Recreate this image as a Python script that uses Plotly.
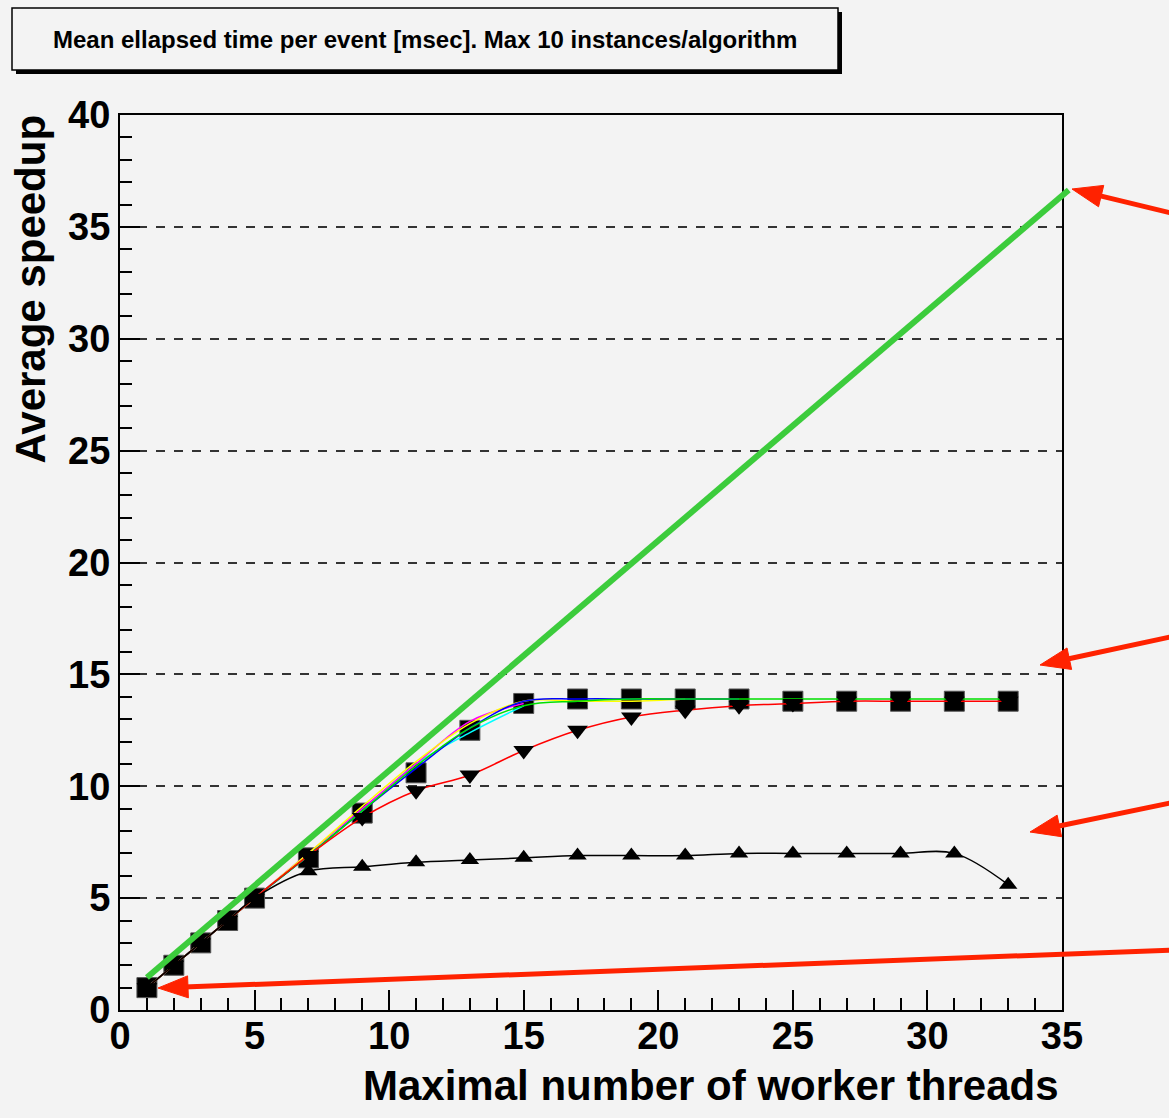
import math
import plotly.graph_objects as go

# ---------------- data ----------------
threads = [1, 2, 3, 4, 5, 7, 9, 11, 13, 15, 17, 19, 21, 23, 25, 27, 29, 31, 33]

speedup_squares = [1, 2, 3, 4, 5, 6.8, 8.8, 10.6, 12.5, 13.7, 13.9, 13.9, 13.9, 13.9, 13.8, 13.8, 13.8, 13.8, 13.8]
speedup_blue    = [1, 2, 3, 4, 5, 6.9, 8.9, 10.8, 12.6, 13.8, 13.9, 13.9, 13.9, 13.9]
speedup_yellow  = [1, 2, 3, 4, 5, 7.0, 9.1, 11.1, 12.8, 13.8, 13.8, 13.8, 13.9]
speedup_magenta = [1, 2, 3, 4, 5, 7.0, 9.0, 11.0, 12.9, 13.7]
speedup_cyan    = [1, 2, 3, 4, 5, 6.9, 8.9, 11.0, 12.4, 13.6]
speedup_green   = [1, 2, 3, 4, 5, 6.9, 8.9, 10.9, 12.6, 13.6, 13.8, 13.9, 13.9, 13.9, 13.9, 13.9, 13.9, 13.9, 13.9]
speedup_red     = [1, 2, 3, 4, 5, 6.9, 8.6, 9.8, 10.5, 11.6, 12.5, 13.1, 13.4, 13.6, 13.7, 13.8, 13.8, 13.8, 13.8]
speedup_black   = [1, 2, 3, 4, 5, 6.2, 6.4, 6.6, 6.7, 6.8, 6.9, 6.9, 6.9, 7.0, 7.0, 7.0, 7.0, 7.0, 5.6]

x_ticks = [0, 5, 10, 15, 20, 25, 30, 35]
y_ticks = [0, 5, 10, 15, 20, 25, 30, 35, 40]

# ideal-scaling overlay (data units): start, end
ideal_x = [1.0, 35.25]
ideal_y = [1.45, 36.65]

title_text = "Mean ellapsed time per event [msec]. Max 10 instances/algorithm"
x_title = "Maximal number of worker threads"
y_title = "Average speedup"

# red arrow annotations (pixel coordinates on the page): tail -> head
arrow_tails = [(1175, 214), (1175, 636), (1175, 802), (1175, 950)]
arrow_heads = [(1072, 189), (1040, 665), (1030, 832), (158, 988)]

# ---------------- layout geometry ----------------
W, H = 1169, 1118
L, R, T, B = 120, 1062, 115, 1010
BG = "#f3f3f3"


def pp(px, py):
    return (px - L) / (R - L), (B - py) / (B - T)


fig = go.Figure()

fig.add_trace(go.Scatter(x=threads, y=speedup_squares, mode="markers",
                         marker=dict(symbol="square", size=20, color="black",
                                     line=dict(color="#555", width=1)),
                         showlegend=False))

for ys, col in [(speedup_cyan, "cyan"), (speedup_magenta, "magenta"),
                (speedup_yellow, "yellow"), (speedup_blue, "blue"),
                (speedup_green, "#00e000")]:
    fig.add_trace(go.Scatter(x=threads[:len(ys)], y=ys, mode="lines",
                             line=dict(color=col, width=1.5, shape="spline"),
                             showlegend=False))

fig.add_trace(go.Scatter(x=threads, y=speedup_red, mode="lines+markers",
                         line=dict(color="red", width=1.5, shape="spline"),
                         marker=dict(symbol="triangle-down", size=18, color="black"),
                         showlegend=False))
fig.add_trace(go.Scatter(x=threads, y=speedup_black, mode="lines+markers",
                         line=dict(color="black", width=1.5, shape="spline"),
                         marker=dict(symbol="triangle-up", size=16, color="black"),
                         showlegend=False))

shapes = []
# title box with shadow
x0, y0 = pp(16, 12)
x1, y1 = pp(842, 74)
shapes.append(dict(type="rect", xref="paper", yref="paper", x0=x0, y0=y0, x1=x1, y1=y1,
                   fillcolor="black", line=dict(width=0)))
x0, y0 = pp(12, 8)
x1, y1 = pp(838, 70)
shapes.append(dict(type="rect", xref="paper", yref="paper", x0=x0, y0=y0, x1=x1, y1=y1,
                   fillcolor=BG, line=dict(color="black", width=1.5)))

# green ideal line (paper coordinates so it is not clipped)
shapes.append(dict(type="line", xref="paper", yref="paper",
                   x0=ideal_x[0] / 35, y0=ideal_y[0] / 40,
                   x1=ideal_x[1] / 35, y1=ideal_y[1] / 40,
                   line=dict(color="#3ccc3c", width=6), layer="above"))

# red arrows
for (tx, ty), (hx, hy) in zip(arrow_tails, arrow_heads):
    dx, dy = hx - tx, hy - ty
    n = math.hypot(dx, dy)
    ux, uy = dx / n, dy / n
    hl, hw = 30, 11
    bx, by = hx - ux * hl, hy - uy * hl
    px_, py_ = -uy, ux
    ax, ay = pp(tx, ty)
    bx2, by2 = pp(bx + ux * 4, by + uy * 4)
    shapes.append(dict(type="line", xref="paper", yref="paper", x0=ax, y0=ay, x1=bx2, y1=by2,
                       line=dict(color="#ff2200", width=5), layer="above"))
    p1 = pp(hx, hy)
    p2 = pp(bx + px_ * hw, by + py_ * hw)
    p3 = pp(bx - px_ * hw, by - py_ * hw)
    path = f"M {p1[0]},{p1[1]} L {p2[0]},{p2[1]} L {p3[0]},{p3[1]} Z"
    shapes.append(dict(type="path", xref="paper", yref="paper", path=path,
                       fillcolor="#ff2200", line=dict(color="#ff2200", width=1), layer="above"))

annotations = []
cx, cy = pp(425, 39)
annotations.append(dict(xref="paper", yref="paper", x=cx, y=cy, text=title_text, showarrow=False,
                        xanchor="center", yanchor="middle",
                        font=dict(family="Liberation Sans", size=24, color="black", weight="bold")))
ax_, ay_ = pp(1061, 1085)
annotations.append(dict(xref="paper", yref="paper", x=ax_, y=ay_, text=x_title, showarrow=False,
                        xanchor="right", yanchor="middle",
                        font=dict(family="Liberation Sans", size=42, color="black", weight="bold")))
ax_, ay_ = pp(30, 113)
annotations.append(dict(xref="paper", yref="paper", x=ax_, y=ay_, text=y_title, showarrow=False,
                        textangle=-90, xanchor="center", yanchor="top",
                        font=dict(family="Liberation Sans", size=42, color="black", weight="bold")))

tickfont = dict(family="Liberation Sans", size=38, color="black", weight="bold")

fig.update_layout(
    width=W, height=H,
    margin=dict(l=L, r=W - R, t=T, b=H - B, pad=0),
    paper_bgcolor=BG, plot_bgcolor=BG,
    shapes=shapes, annotations=annotations,
    xaxis=dict(range=[0, 35], tickvals=x_ticks, ticks="inside", ticklen=20, tickwidth=1.5,
               tickcolor="black", showline=True, linecolor="black", linewidth=2, mirror=True,
               showgrid=False, zeroline=False, tickfont=tickfont, ticklabelstandoff=-9,
               minor=dict(dtick=1, ticks="inside", ticklen=12, tickwidth=1.5, tickcolor="black",
                          showgrid=False)),
    yaxis=dict(range=[0, 40], tickvals=y_ticks, ticks="inside", ticklen=20, tickwidth=1.5,
               tickcolor="black", showline=True, linecolor="black", linewidth=2, mirror=True,
               showgrid=True, gridcolor="#333333", gridwidth=1.5, griddash="dash",
               zeroline=False, tickfont=tickfont,
               minor=dict(dtick=1, ticks="inside", ticklen=12, tickwidth=1.5, tickcolor="black",
                          showgrid=False)),
)

fig.write_html("out.html", config={"displayModeBar": False},
               post_script="document.body.style.margin='0';document.body.style.padding='0';")
